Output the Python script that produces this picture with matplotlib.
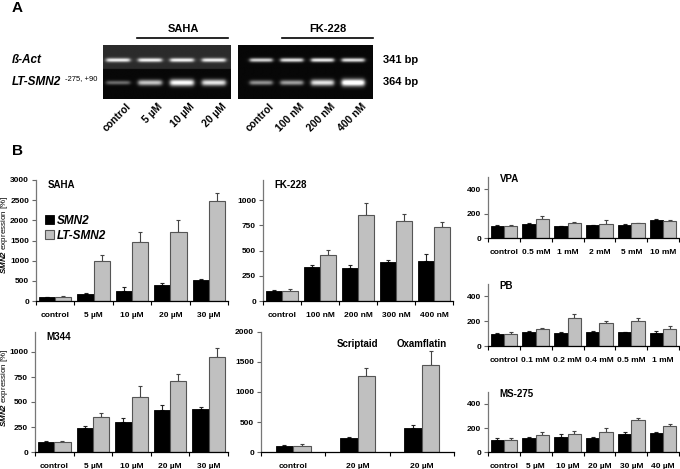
import matplotlib
matplotlib.use('Agg')
import matplotlib.pyplot as plt
import numpy as np

plt.rcParams['font.family'] = ['Liberation Sans', 'DejaVu Sans']
plt.rcParams['mathtext.fontset'] = 'custom'
plt.rcParams['mathtext.bfit'] = 'Liberation Sans:italic:bold'
plt.rcParams['mathtext.it'] = 'Liberation Sans:italic'
plt.rcParams['mathtext.rm'] = 'Liberation Sans'

W, H = 680, 469

# ---- panel A: gel band intensities ----
gel1_lanes = ['control', '5 µM', '10 µM', '20 µM']
gel1_bact = [0.8, 0.82, 0.82, 0.8]
gel1_lt = [0.4, 0.75, 1.0, 0.88]
gel2_lanes = ['control', '100 nM', '200 nM', '400 nM']
gel2_bact = [0.82, 0.88, 0.92, 0.88]
gel2_lt = [0.55, 0.6, 0.88, 1.1]

# ---- panel B: expression data [%] ----
saha_cats = ['control', '5 µM', '10 µM', '20 µM', '30 µM']
saha_smn = [100, 180, 260, 390, 510]
saha_smn_err = [10, 10, 80, 55, 30]
saha_lt = [100, 1000, 1460, 1710, 2480]
saha_lt_err = [12, 130, 260, 310, 200]

fk_cats = ['control', '100 nM', '200 nM', '300 nM', '400 nM']
fk_smn = [100, 335, 325, 385, 400]
fk_smn_err = [12, 25, 35, 25, 65]
fk_lt = [100, 455, 855, 795, 735]
fk_lt_err = [20, 50, 115, 65, 50]

vpa_cats = ['control', '0.5 mM', '1 mM', '2 mM', '5 mM', '10 mM']
vpa_smn = [100, 115, 96, 104, 107, 144]
vpa_smn_err = [5, 5, 5, 5, 5, 12]
vpa_lt = [100, 158, 120, 115, 120, 136]
vpa_lt_err = [5, 20, 15, 30, 5, 10]

pb_cats = ['control', '0.1 mM', '0.2 mM', '0.4 mM', '0.5 mM', '1 mM']
pb_smn = [100, 113, 105, 113, 110, 105]
pb_smn_err = [5, 5, 10, 8, 5, 15]
pb_lt = [100, 137, 228, 185, 199, 140]
pb_lt_err = [12, 8, 32, 20, 30, 18]

ms_cats = ['control', '5 µM', '10 µM', '20 µM', '30 µM', '40 µM']
ms_smn = [101, 120, 128, 114, 150, 160]
ms_smn_err = [18, 5, 25, 12, 18, 10]
ms_lt = [100, 139, 147, 163, 264, 220]
ms_lt_err = [14, 25, 24, 33, 18, 12]

m344_cats = ['control', '5 µM', '10 µM', '20 µM', '30 µM']
m344_smn = [102, 245, 301, 420, 434]
m344_smn_err = [8, 15, 40, 55, 20]
m344_lt = [100, 347, 546, 712, 950]
m344_lt_err = [12, 40, 110, 70, 90]

so_cats = ['control', '20 µM', '20 µM']
so_names = ['', 'Scriptaid', 'Oxamflatin']
so_smn = [105, 232, 398]
so_smn_err = [10, 15, 55]
so_lt = [100, 1271, 1442]
so_lt_err = [30, 130, 245]

BLACK = '#000000'
GREY = '#c0c0c0'


def rect(x0, y0, x1, y1):
    return [x0 / W, 1 - y1 / H, (x1 - x0) / W, (y1 - y0) / H]


def gel(fig, box, lanes, bact, lt, xlim, split_bg=False):
    ax = fig.add_axes(rect(*box))
    x0, y0, x1, y1 = box
    xs = np.linspace(xlim[0], xlim[1], 300)
    ys = np.linspace(y0, y1, 160)
    X, Y = np.meshgrid(xs, ys)
    img = np.full(X.shape, 0.03)
    if split_bg:
        img[Y < 69] = 0.17
    for i in range(len(lanes)):
        xprof = 1 / (1 + np.exp((np.abs(X - i) - 0.37) / 0.035))
        img += bact[i] * xprof * np.exp(-((Y - 60) / 2.0) ** 2)
        img += lt[i] * xprof * np.exp(-((Y - 82.7) / (1.2 + 2.2 * lt[i])) ** 2)
    ax.imshow(np.clip(img, 0, 1), cmap='gray', vmin=0, vmax=1, aspect='auto',
              extent=(xlim[0], xlim[1], y1, y0), interpolation='bilinear')
    ax.set_xlim(*xlim)
    ax.set_ylim(y1, y0)
    ax.axis('off')
    for i, lab in enumerate(lanes):
        xf = ax.transData.transform((i + 0.25, y1))
        xf = fig.transFigure.inverted().transform(xf)
        fig.text(xf[0], xf[1] - 2 / H, lab, rotation=45, ha='right', va='top',
                 rotation_mode='anchor', fontsize=7.5, fontweight='bold')
    return ax


def panel(fig, box, cats, smn, smn_err, lt, lt_err, ylim, yticks, title=None,
          width=0.42, off=0.21):
    ax = fig.add_axes(rect(*box))
    x = np.arange(len(cats)) + 0.5
    ax.errorbar(x - off, smn, yerr=[np.zeros(len(smn)), smn_err], fmt='none',
                ecolor='#222222', elinewidth=0.8, capsize=1.6, capthick=0.8, zorder=1)
    ax.errorbar(x + off, lt, yerr=[np.zeros(len(lt)), lt_err], fmt='none',
                ecolor='#444444', elinewidth=0.8, capsize=1.6, capthick=0.8, zorder=1)
    b1 = ax.bar(x - off, smn, width, color=BLACK, edgecolor=BLACK, linewidth=0.6,
                label='SMN2', zorder=2)
    b2 = ax.bar(x + off, lt, width, color=GREY, edgecolor='#555555', linewidth=0.8,
                label='LT-SMN2', zorder=2)
    ax.set_xlim(0, len(cats))
    ax.set_ylim(*ylim)
    ax.set_yticks(yticks)
    ax.set_yticklabels([str(t) for t in yticks], fontsize=6, fontweight='bold')
    ax.set_xticks(x)
    ax.set_xticklabels(cats, fontsize=6, fontweight='bold')
    ax.set_xticks(np.arange(len(cats) + 1), minor=True)
    ax.tick_params(axis='x', which='major', length=0, pad=8)
    ax.tick_params(axis='x', which='minor', length=3, width=0.8, direction='out')
    ax.tick_params(axis='y', length=3, width=0.8, direction='out', pad=2,
                   color='#666666')
    for s in ['top', 'right']:
        ax.spines[s].set_visible(False)
    ax.spines['left'].set_color('#777777')
    ax.spines['left'].set_linewidth(0.9)
    ax.spines['bottom'].set_linewidth(0.9)
    ax.patch.set_alpha(0)
    if title:
        ax.text(0.06, 0.96, title, transform=ax.transAxes, fontsize=7,
                fontweight='bold', va='center', ha='left')
    return ax, b1, b2


fig = plt.figure(figsize=(W / 100, H / 100), dpi=100)

# panel A
fig.text(12 / W, 1 - 8 / H, 'A', fontsize=11, fontweight='bold', va='center')
gel(fig, (103, 45, 230, 99), gel1_lanes, gel1_bact, gel1_lt, (-0.47, 3.53), split_bg=True)
gel(fig, (238, 45, 373, 99), gel2_lanes, gel2_bact, gel2_lt, (-0.75, 3.64))
fig.text(12 / W, 1 - 60 / H, 'ß-Act', fontsize=8.5, fontweight='bold', style='italic', va='center')
lt_lab = fig.text(12 / W, 1 - 82 / H, 'LT-SMN2', fontsize=8.5, fontweight='bold',
                  style='italic', va='center')
fig.canvas.draw()
bb = lt_lab.get_window_extent()
fig.text(bb.x1 / W + 4 / W, 1 - 79 / H, '-275, +90', fontsize=5.5, va='center')
fig.text(383 / W, 1 - 60 / H, '341 bp', fontsize=8, fontweight='bold', va='center')
fig.text(383 / W, 1 - 82 / H, '364 bp', fontsize=8, fontweight='bold', va='center')
fig.text(183 / W, 1 - 29 / H, 'SAHA', fontsize=8, fontweight='bold', ha='center', va='center')
fig.text(328 / W, 1 - 29 / H, 'FK-228', fontsize=8, fontweight='bold', ha='center', va='center')
fig.add_artist(plt.Line2D([137 / W, 228 / W], [1 - 38 / H] * 2, color='black', lw=1.2))
fig.add_artist(plt.Line2D([282 / W, 373 / W], [1 - 38 / H] * 2, color='black', lw=1.2))

# panel B
fig.text(12 / W, 1 - 151 / H, 'B', fontsize=11, fontweight='bold', va='center')

ax1, b1, b2 = panel(fig, (36, 180, 228, 301), saha_cats, saha_smn, saha_smn_err,
                    saha_lt, saha_lt_err, (0, 3000), [0, 500, 1000, 1500, 2000, 2500, 3000], 'SAHA')
ax1.legend([b1, b2], ['SMN2', 'LT-SMN2'], loc='upper left', bbox_to_anchor=(-0.01, 0.8),
           frameon=False, handlelength=0.75, handleheight=0.75, handletextpad=0.3,
           labelspacing=0.25, prop={'size': 8.5, 'weight': 'bold', 'style': 'italic'})

panel(fig, (263, 180, 453, 301), fk_cats, fk_smn, fk_smn_err, fk_lt, fk_lt_err,
      (0, 1200), [0, 250, 500, 750, 1000], 'FK-228')
panel(fig, (488, 177, 679, 238), vpa_cats, vpa_smn, vpa_smn_err, vpa_lt, vpa_lt_err,
      (0, 500), [0, 200, 400], 'VPA')
panel(fig, (488, 284, 679, 346), pb_cats, pb_smn, pb_smn_err, pb_lt, pb_lt_err,
      (0, 500), [0, 200, 400], 'PB')
panel(fig, (488, 392, 679, 452), ms_cats, ms_smn, ms_smn_err, ms_lt, ms_lt_err,
      (0, 500), [0, 200, 400], 'MS-275')
panel(fig, (35, 332, 228, 452), m344_cats, m344_smn, m344_smn_err, m344_lt, m344_lt_err,
      (0, 1200), [0, 250, 500, 750, 1000], 'M344')
ax7, _, _ = panel(fig, (261, 332, 454, 452), so_cats, so_smn, so_smn_err, so_lt, so_lt_err,
                  (0, 2000), [0, 500, 1000, 1500, 2000], None, width=0.27, off=0.135)
for i, name in enumerate(so_names):
    if name:
        ax7.text(i + 0.5, 1800, name, fontsize=7, fontweight='bold', ha='center', va='center')

ylab = r'$\mathbfit{SMN2}$ expression [%]'
fig.text(5 / W, 1 - 235 / H, ylab, rotation=90, fontsize=5.8, ha='center', va='center')
fig.text(5 / W, 1 - 388 / H, ylab, rotation=90, fontsize=5.8, ha='center', va='center')

fig.savefig('out.png', dpi=100)
